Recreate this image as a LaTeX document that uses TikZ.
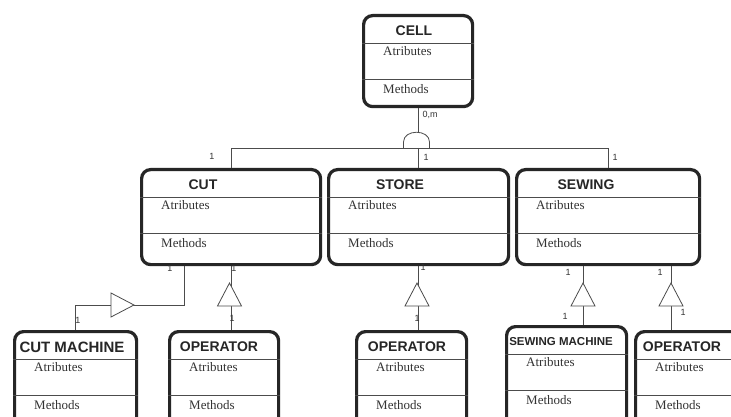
\documentclass[tikz,border=0pt]{standalone}
\usepackage{fontspec}
\setmainfont{Liberation Serif}
\setsansfont{Liberation Sans}
\usetikzlibrary{calc}

\begin{document}
\begin{tikzpicture}[x=1pt,y=-1pt]
        %colores
        \colorlet{borde}{black!85}
        \colorlet{linea}{black!70}
        \tikzset{
            clase/.style={draw=borde, line width=3.2pt, rounded corners=9pt, inner sep=0pt, anchor=north west},
            titulo/.style={font=\sffamily\bfseries, inner sep=0pt, text=black!85},
            texto/.style={font=\fontsize{13}{15}\selectfont, inner sep=0pt, anchor=west, text=black!80},
            etiq/.style={font=\sffamily\fontsize{9}{10}\selectfont, inner sep=0pt, text=black!80},
            conector/.style={draw=linea, line width=0.8pt},
        }
        \clip (0,0) rectangle (731,417);
        \fill[white] (0,0) rectangle (731,417);

        % Clases: nombre/x/y/ancho/alto/centro titulo/tamano/titulo
        \foreach \n/\x/\y/\w/\h/\tx/\fs/\t in {
            cell/362/14/109/91/414/14/CELL,
            cut/140/168/179/95/203/14/CUT,
            store/327/168/180/95/400/14/STORE,
            sewing/515/168/183/95/586/14/SEWING,
            cutmach/13/330/122/100/72/15/CUT MACHINE,
            opcut/168/330/109/100/219/14/OPERATOR,
            opstore/355/330/110/100/407/14/OPERATOR,
            sewmach/505/325/120/100/561/11.5/SEWING MACHINE,
            opsew/634/330/110/100/682/14/OPERATOR}
        {
            \node[clase, minimum width=\w pt, minimum height=\h pt] (\n) at (\x,\y) {};
            % lineas de separacion
            \draw[linea, line width=0.8pt] ($(\n.north west)+(0,29.5)$) -- ($(\n.north east)+(0,29.5)$);
            \draw[linea, line width=0.8pt] ($(\n.north west)+(0,65)$) -- ($(\n.north east)+(0,65)$);
            \node[titulo, font=\sffamily\bfseries\fontsize{\fs}{\fs}\selectfont] (\n-t) at ($(\n.north west)+(\tx-\x,17)$) {\t};
            \node[texto] (\n-a) at ($(\n.north west)+(21,37)$) {Atributes};
            \node[texto] (\n-m) at ($(\n.north west)+(21,75)$) {Methods};
        }

        % Agregacion con CELL
        \draw[conector] (cell.south) -- (cell.south |- 0,133);
        \draw[conector] (cut.north) -- (cut.north |- 0,148) -- (sewing.north |- 0,148) -- (sewing.north);
        \draw[conector] (store.north |- 0,148) -- (store.north);
        \draw[conector] (403.5,148) -- (403.5,142) .. controls (403.5,129) and (429.5,129) .. (429.5,142) -- (429.5,148);

        % Herencias
        \coordinate (pCM) at (184,305);
        \coordinate (pSM) at (583,0);
        \coordinate (pOS) at (671,0);
        \draw[conector] (pCM |- cut.south) -- (pCM) -| (cutmach.north);
        \draw[conector] (cut.south) -- (cut.south |- opcut.north);
        \draw[conector] (store.south) -- (store.south |- opstore.north);
        \draw[conector] (pSM |- sewing.south) -- (pSM |- sewmach.north);
        \draw[conector] (pOS |- sewing.south) -- (pOS |- opsew.north);

        % Triangulos
        \foreach \x in {229.5,417,583,671}
            \draw[conector, fill=white] (\x-12,306) -- (\x,283) -- (\x+12,306) -- cycle;
        \draw[conector, fill=white] (111,293) -- (134,305) -- (111,317) -- cycle;

        % Multiplicidades
        \node[etiq] (m0) at (430,115) {0,m};
        \foreach \x/\y [count=\i] in {212/156, 426/157, 615/157, 170/268, 234/268, 78/320, 232/318,
            423/267, 417/318, 568/272, 565/316, 660/272, 683/312}
            \node[etiq] (m\i) at (\x,\y) {1};
    \end{tikzpicture}
\end{document}
